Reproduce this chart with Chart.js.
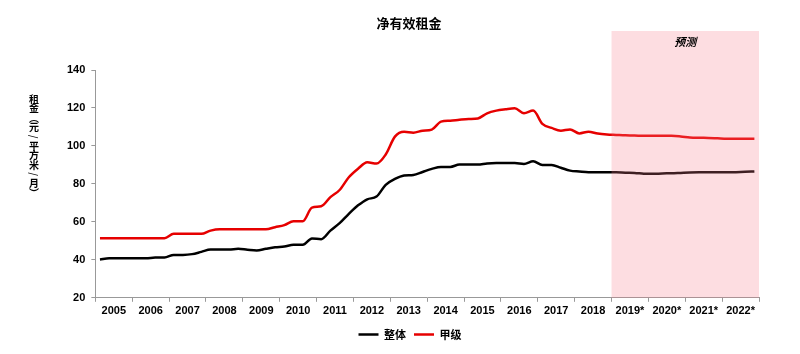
<!DOCTYPE html>
<html lang="zh">
<head>
<meta charset="UTF-8">
<title>净有效租金</title>
<style>
  html, body { margin: 0; padding: 0; background: #fff; }
  #wrap { width: 800px; height: 354px; }
</style>
<script src="https://cdn.jsdelivr.net/npm/chart.js"></script>
</head>
<body>
<div id="wrap"><canvas id="chart" width="800" height="354"></canvas></div>
<script>
// year categories (ticks on the x axis), forecast years marked with *
const years = ['2005', '2006', '2007', '2008', '2009', '2010', '2011', '2012', '2013',
               '2014', '2015', '2016', '2017', '2018', '2019*', '2020*', '2021*', '2022*'];
const forecastFrom = '2019*';

// quarterly values, 4 per year
const overall = [
  40.2, 40.8, 40.8, 40.8,   40.8, 40.8, 41.2, 41.2,   42.6, 42.6, 43.0, 44.2,
  45.4, 45.4, 45.4, 45.8,   45.3, 44.9, 45.8, 46.6,   47.0, 47.9, 47.9, 51.2,
  50.9, 55.4, 59.3, 64.2,   68.7, 71.9, 73.3, 79.5,   82.6, 84.4, 84.7, 86.3,
  87.9, 88.9, 88.9, 90.2,   90.2, 90.2, 90.8, 91.0,   91.0, 91.0, 90.5, 91.9,
  90.0, 90.0, 88.5, 87.0,   86.5, 86.1, 86.1, 86.1,   86.1, 85.9, 85.8, 85.4,
  85.3, 85.5, 85.6, 85.8,   86.0, 86.1, 86.1, 86.1,   86.1, 86.2, 86.4, 86.5
];
const gradeA = [
  51.4, 51.4, 51.4, 51.4,   51.4, 51.4, 51.4, 51.4,   53.7, 53.7, 53.7, 53.7,
  55.4, 56.1, 56.1, 56.1,   56.1, 56.1, 56.1, 57.2,   58.3, 60.3, 60.3, 67.5,
  68.2, 73.0, 76.8, 83.5,   88.0, 91.4, 90.7, 95.5,  104.9, 107.5, 107.0, 108.0,
 108.6, 112.8, 113.3, 113.8, 114.2, 114.5, 117.2, 118.6, 119.3, 119.8, 117.2, 118.6,
 111.6, 109.5, 108.0, 108.7, 106.6, 107.5, 106.5, 106.0, 105.8, 105.6, 105.5, 105.3,
 105.3, 105.3, 105.3, 105.0, 104.5, 104.3, 104.2, 104.0, 103.8, 103.8, 103.8, 103.8
];

const quarterLabels = [];
years.forEach(y => { for (let q = 1; q <= 4; q++) quarterLabels.push(y + 'Q' + q); });

const tickFont = { family: 'Liberation Sans, Arial, sans-serif', size: 11, weight: 'bold' };
const cjk = '"Noto Sans CJK SC", sans-serif';

const decorations = {
  id: 'decorations',
  afterDatasetsDraw(chart) {
    const ctx = chart.ctx;
    const area = chart.chartArea;
    const yr = chart.scales.x2;
    const i = years.indexOf(forecastFrom);
    const left = (yr.getPixelForValue(i - 1) + yr.getPixelForValue(i)) / 2;
    ctx.save();
    ctx.fillStyle = 'rgba(247, 119, 135, 0.25)';
    ctx.fillRect(left, 31, area.right - left, area.bottom - 31);
    ctx.fillStyle = '#000';
    ctx.font = 'italic bold 11px ' + cjk;
    ctx.textAlign = 'center';
    ctx.textBaseline = 'middle';
    ctx.fillText('预测', (left + area.right) / 2, 42);
    ctx.restore();
  },
  afterDraw(chart) {
    const ctx = chart.ctx;
    ctx.save();
    ctx.fillStyle = '#000';
    ctx.textAlign = 'center';
    ctx.textBaseline = 'middle';
    ctx.font = 'bold 13px ' + cjk;
    ctx.fillText('净有效租金', 409, 23);

    // vertical axis title, one character per row
    const chars = ['租', '金', '︵', '元', '/', '平', '方', '米', '/', '月', '︶'];
    ctx.font = 'bold 10px ' + cjk;
    chars.forEach((c, k) => {
      const y = 99 + k * 9.4;
      if (c === '/') {
        ctx.save();
        ctx.translate(34, y);
        ctx.rotate(Math.PI / 2);
        ctx.fillText(c, 0, 0);
        ctx.restore();
      } else {
        ctx.fillText(c, 34, y);
      }
    });
    ctx.restore();
  }
};

new Chart(document.getElementById('chart'), {
  type: 'line',
  data: {
    labels: quarterLabels,
    datasets: [
      { label: '整体', data: overall, borderColor: '#000', backgroundColor: '#000',
        borderWidth: 2.5, pointRadius: 0, cubicInterpolationMode: 'monotone', xAxisID: 'x' },
      { label: '甲级', data: gradeA, borderColor: '#e60000', backgroundColor: '#e60000',
        borderWidth: 2.5, pointRadius: 0, cubicInterpolationMode: 'monotone', xAxisID: 'x' }
    ]
  },
  options: {
    responsive: false,
    animation: false,
    layout: { padding: { top: 70, left: 61, right: 41, bottom: 4 } },
    plugins: {
      title: { display: false },
      tooltip: { enabled: false },
      legend: {
        position: 'bottom',
        labels: {
          usePointStyle: true, pointStyle: 'line', pointStyleWidth: 20,
          color: '#000', padding: 8,
          font: { family: cjk, size: 11, weight: 'bold' }
        }
      }
    },
    scales: {
      x: { type: 'category', display: false, offset: true },
      x2: {
        type: 'category', labels: years, position: 'bottom', offset: true,
        grid: { offset: true, drawOnChartArea: false, tickLength: 4, color: '#999' },
        border: { color: '#999' },
        ticks: { autoSkip: false, maxRotation: 0, padding: 3, color: '#000', font: tickFont }
      },
      y: {
        min: 20, max: 140,
        ticks: { stepSize: 20, padding: 6, color: '#000', font: tickFont },
        grid: { drawOnChartArea: false, tickLength: 4, color: '#999' },
        border: { color: '#999' }
      }
    }
  },
  plugins: [decorations]
});
</script>
</body>
</html>
